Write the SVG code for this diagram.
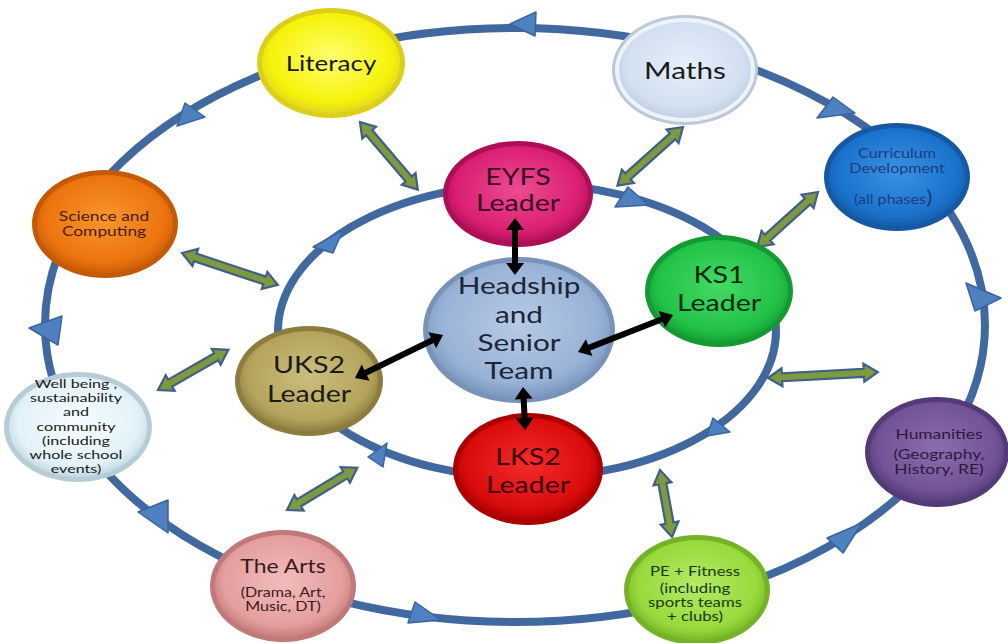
<svg xmlns="http://www.w3.org/2000/svg" width="1008" height="643" viewBox="0 0 1008 643">
<defs>
<style>
.loop{fill:none;stroke:#41699f;stroke-width:8}
.tri{fill:#4f80c0;stroke:#3a64a0;stroke-width:1.5;stroke-linejoin:round}
.garrow{fill:#7e9a3c;stroke:#3f5f8c;stroke-width:2.2;stroke-linejoin:miter}
.barrow{fill:#000;stroke:none}
text{font-family:Lato,"Open Sans","Liberation Sans",sans-serif;text-anchor:middle}
.big{font-size:23px}
.sm{font-size:14px}
.xs{font-size:13px}
</style>
<radialGradient id="gLit" cx="50%" cy="45%" r="55%"><stop offset="0" stop-color="#ffff70"/><stop offset="0.8" stop-color="#f6f20a"/><stop offset="1" stop-color="#e2d820"/></radialGradient>
<radialGradient id="gMat" cx="50%" cy="45%" r="55%"><stop offset="0" stop-color="#e6eef9"/><stop offset="0.8" stop-color="#d3e0f2"/><stop offset="1" stop-color="#c2d0e4"/></radialGradient>
<radialGradient id="gCur" cx="50%" cy="45%" r="55%"><stop offset="0" stop-color="#3a92e2"/><stop offset="0.8" stop-color="#1b72cc"/><stop offset="1" stop-color="#155ead"/></radialGradient>
<radialGradient id="gSci" cx="50%" cy="45%" r="55%"><stop offset="0" stop-color="#f8962e"/><stop offset="0.8" stop-color="#ec740e"/><stop offset="1" stop-color="#cc5e08"/></radialGradient>
<radialGradient id="gWel" cx="50%" cy="45%" r="55%"><stop offset="0" stop-color="#f6fcff"/><stop offset="0.8" stop-color="#e2f2f9"/><stop offset="1" stop-color="#c4d8e2"/></radialGradient>
<radialGradient id="gUK" cx="50%" cy="45%" r="55%"><stop offset="0" stop-color="#cbbd7e"/><stop offset="0.8" stop-color="#b4a45c"/><stop offset="1" stop-color="#928244"/></radialGradient>
<radialGradient id="gArt" cx="50%" cy="45%" r="55%"><stop offset="0" stop-color="#f2bcbc"/><stop offset="0.8" stop-color="#e49e9e"/><stop offset="1" stop-color="#c67e7e"/></radialGradient>
<radialGradient id="gEY" cx="50%" cy="45%" r="55%"><stop offset="0" stop-color="#ec4c92"/><stop offset="0.8" stop-color="#db1f72"/><stop offset="1" stop-color="#b3125a"/></radialGradient>
<radialGradient id="gHd" cx="50%" cy="45%" r="55%"><stop offset="0" stop-color="#b7cae6"/><stop offset="0.8" stop-color="#98b2d6"/><stop offset="1" stop-color="#7c96be"/></radialGradient>
<radialGradient id="gKS" cx="50%" cy="45%" r="55%"><stop offset="0" stop-color="#44da64"/><stop offset="0.8" stop-color="#22c248"/><stop offset="1" stop-color="#16a236"/></radialGradient>
<radialGradient id="gLK" cx="50%" cy="45%" r="55%"><stop offset="0" stop-color="#f22c2c"/><stop offset="0.8" stop-color="#da0c0c"/><stop offset="1" stop-color="#b20202"/></radialGradient>
<radialGradient id="gHum" cx="50%" cy="45%" r="55%"><stop offset="0" stop-color="#8c6cb0"/><stop offset="0.8" stop-color="#725396"/><stop offset="1" stop-color="#583e7a"/></radialGradient>
<radialGradient id="gPE" cx="50%" cy="45%" r="55%"><stop offset="0" stop-color="#b4ea66"/><stop offset="0.8" stop-color="#98da3c"/><stop offset="1" stop-color="#7aba2a"/></radialGradient>
</defs>
<rect width="1008" height="643" fill="#ffffff"/>

<g id="connectors">
<ellipse class="loop" cx="515" cy="325" rx="470" ry="297"/>
<ellipse class="loop" cx="527" cy="331" rx="249" ry="147"/>
<polygon class="tri" points="510,24 536,12 535,36"/>
<polygon class="tri" points="817,118 833,97 855,113"/>
<polygon class="tri" points="177,126 185,103 205,117"/>
<polygon class="tri" points="29,328 62,316 58,345"/>
<polygon class="tri" points="138,512 168,500 168,533"/>
<polygon class="tri" points="408,623 415,602 441,620"/>
<polygon class="tri" points="827,538 862,523 843,553"/>
<polygon class="tri" points="966,283 1001,298 975,311"/>
<polygon class="tri" points="615,207 628,187 648,205"/>
<polygon class="tri" points="713,418 730,432 707,436"/>
<polygon class="tri" points="368,457 387,443 383,467"/>
<polygon class="tri" points="313,247 343,230 333,253"/>
<polygon class="garrow" transform="translate(360,122) rotate(49.5)" points="0,0 14,-9 14,-4 75,-4 75,-9 89,0 75,9 75,4 14,4 14,9"/>
<polygon class="garrow" transform="translate(683,127) rotate(138.2)" points="0,0 14,-9 14,-4 74,-4 74,-9 88,0 74,9 74,4 14,4 14,9"/>
<polygon class="garrow" transform="translate(818,192) rotate(137.9)" points="0,0 14,-9 14,-4 68,-4 68,-9 82,0 68,9 68,4 14,4 14,9"/>
<polygon class="garrow" transform="translate(182,253) rotate(18.4)" points="0,0 14,-9 14,-4 87,-4 87,-9 101,0 87,9 87,4 14,4 14,9"/>
<polygon class="garrow" transform="translate(158,390) rotate(-29.7)" points="0,0 14,-9 14,-4 67,-4 67,-9 81,0 67,9 67,4 14,4 14,9"/>
<polygon class="garrow" transform="translate(287,510) rotate(-31)" points="0,0 14,-9 14,-4 68,-4 68,-9 82,0 68,9 68,4 14,4 14,9"/>
<polygon class="garrow" transform="translate(768,378) rotate(-3.1)" points="0,0 14,-9 14,-4 96,-4 96,-9 110,0 96,9 96,4 14,4 14,9"/>
<polygon class="garrow" transform="translate(660,470) rotate(79.8)" points="0,0 14,-9 14,-4 54,-4 54,-9 68,0 54,9 54,4 14,4 14,9"/>
</g>

<g id="literacy">
<ellipse cx="331" cy="63" rx="74" ry="55" fill="#dccf1c"/>
<ellipse cx="331" cy="63" rx="69" ry="50" fill="url(#gLit)"/>
<text transform="matrix(1.24 0 0 1 331 0)" font-size="21" fill="#1a1a1a"><tspan x="0" y="71">Literacy</tspan></text>
</g>
<g id="maths">
<ellipse cx="685" cy="70" rx="73" ry="55" fill="#bcc8da"/>
<ellipse cx="685" cy="70" rx="70" ry="52" fill="#eef3fa"/>
<ellipse cx="685" cy="70" rx="66" ry="48" fill="url(#gMat)"/>
<text transform="matrix(1.24 0 0 1 685 0)" font-size="24" fill="#1a1a1a"><tspan x="0" y="79">Maths</tspan></text>
</g>
<g id="curriculum">
<ellipse cx="897" cy="177" rx="73" ry="54" fill="#1558a4"/>
<ellipse cx="897" cy="177" rx="68" ry="49" fill="url(#gCur)"/>
<text transform="matrix(1.24 0 0 1 897 0)" class="xs" fill="#1c3c80"><tspan x="0" y="158">Curriculum</tspan><tspan x="0" y="173">Development</tspan><tspan x="-3" y="204">(all phases<tspan font-size="20">)</tspan></tspan></text>
</g>
<g id="science">
<ellipse cx="105" cy="224" rx="73" ry="54" fill="#c45a08"/>
<ellipse cx="105" cy="224" rx="68" ry="49" fill="url(#gSci)"/>
<text transform="matrix(1.24 0 0 1 104 0)" class="sm" fill="#4a1c00"><tspan x="0" y="221">Science and</tspan><tspan x="0" y="236">Computing</tspan></text>
</g>
<g id="wellbeing">
<ellipse cx="78" cy="427" rx="74" ry="55" fill="#b8ccd8"/>
<ellipse cx="78" cy="427" rx="69" ry="50" fill="url(#gWel)"/>
<text transform="matrix(1.32 0 0 1 76 0)" font-size="12.2" fill="#1a1a1a"><tspan x="0" y="388">Well being ,</tspan><tspan x="0" y="402.2">sustainability</tspan><tspan x="0" y="416.4">and</tspan><tspan x="0" y="430.6">community</tspan><tspan x="0" y="444.8">(including</tspan><tspan x="0" y="459">whole school</tspan><tspan x="0" y="473.2">events)</tspan></text>
</g>
<g id="arts">
<ellipse cx="283" cy="586" rx="73" ry="56" fill="#c07878"/>
<ellipse cx="283" cy="586" rx="68" ry="51" fill="url(#gArt)"/>
<text transform="matrix(1.24 0 0 1 283 0)" fill="#3a1a1a"><tspan x="0" y="573" font-size="18.5">The Arts</tspan><tspan x="0" y="597" font-size="13">(Drama, Art,</tspan><tspan x="0" y="611" font-size="13">Music, DT)</tspan></text>
</g>
<g id="pe">
<ellipse cx="697" cy="590" rx="73" ry="55" fill="#74b228"/>
<ellipse cx="697" cy="590" rx="68" ry="50" fill="url(#gPE)"/>
<text transform="matrix(1.24 0 0 1 695 0)" font-size="13.5" fill="#1a3a10"><tspan x="0" y="576">PE + Fitness</tspan><tspan x="0" y="593">(including</tspan><tspan x="0" y="607">sports teams</tspan><tspan x="0" y="621">+ clubs)</tspan></text>
</g>
<g id="humanities">
<ellipse cx="937" cy="452" rx="72" ry="55" fill="#543a76"/>
<ellipse cx="937" cy="452" rx="67" ry="50" fill="url(#gHum)"/>
<text transform="matrix(1.24 0 0 1 939 0)" class="sm" fill="#2a1a3a"><tspan x="0" y="439">Humanities</tspan><tspan x="0" y="459">(Geography,</tspan><tspan x="0" y="474">History, RE)</tspan></text>
</g>
<g id="eyfs">
<ellipse cx="518" cy="194" rx="75" ry="53" fill="#ad0f56"/>
<ellipse cx="518" cy="194" rx="70" ry="48" fill="url(#gEY)"/>
<text transform="matrix(1.24 0 0 1 518 0)" class="big" fill="#3a0a20"><tspan x="0" y="185">EYFS</tspan><tspan x="0" y="211">Leader</tspan></text>
</g>
<g id="ks1">
<ellipse cx="719" cy="291" rx="74" ry="56" fill="#149a32"/>
<ellipse cx="719" cy="291" rx="69" ry="51" fill="url(#gKS)"/>
<text transform="matrix(1.24 0 0 1 719 0)" class="big" fill="#0a2a10"><tspan x="0" y="283">KS1</tspan><tspan x="0" y="311">Leader</tspan></text>
</g>
<g id="uks2">
<ellipse cx="309" cy="381" rx="74" ry="55" fill="#8c7c40"/>
<ellipse cx="309" cy="381" rx="69" ry="50" fill="url(#gUK)"/>
<text transform="matrix(1.24 0 0 1 309 0)" class="big" fill="#1a1a1a"><tspan x="0" y="373">UKS2</tspan><tspan x="0" y="402">Leader</tspan></text>
</g>
<g id="lks2">
<ellipse cx="528" cy="469" rx="75" ry="56" fill="#ac0000"/>
<ellipse cx="528" cy="469" rx="70" ry="51" fill="url(#gLK)"/>
<text transform="matrix(1.24 0 0 1 528 0)" class="big" fill="#3a0000"><tspan x="0" y="465">LKS2</tspan><tspan x="0" y="493">Leader</tspan></text>
</g>
<g id="headship">
<ellipse cx="519" cy="330" rx="96" ry="73" fill="#7892ba"/>
<ellipse cx="519" cy="330" rx="91" ry="68" fill="url(#gHd)"/>
<text transform="matrix(1.24 0 0 1 519 0)" font-size="24" fill="#1a2535"><tspan x="0" y="294">Headship</tspan><tspan x="0" y="323">and</tspan><tspan x="0" y="351">Senior</tspan><tspan x="0" y="379">Team</tspan></text>
</g>

<g id="connectors-centre">
<polygon class="barrow" transform="translate(515,218) rotate(90)" points="0,0 12,-9 12,-3 45,-3 45,-9 57,0 45,9 45,3 12,3 12,9"/>
<polygon class="barrow" transform="translate(523,387) rotate(87)" points="0,0 12,-9 12,-3 31,-3 31,-9 43,0 31,9 31,3 12,3 12,9"/>
<polygon class="barrow" transform="translate(578,352) rotate(-21.3)" points="0,0 12,-9 12,-3 90,-3 90,-9 102,0 90,9 90,3 12,3 12,9"/>
<polygon class="barrow" transform="translate(443,335) rotate(154)" points="0,0 12,-9 12,-3 86,-3 86,-9 98,0 86,9 86,3 12,3 12,9"/>
</g>
</svg>
